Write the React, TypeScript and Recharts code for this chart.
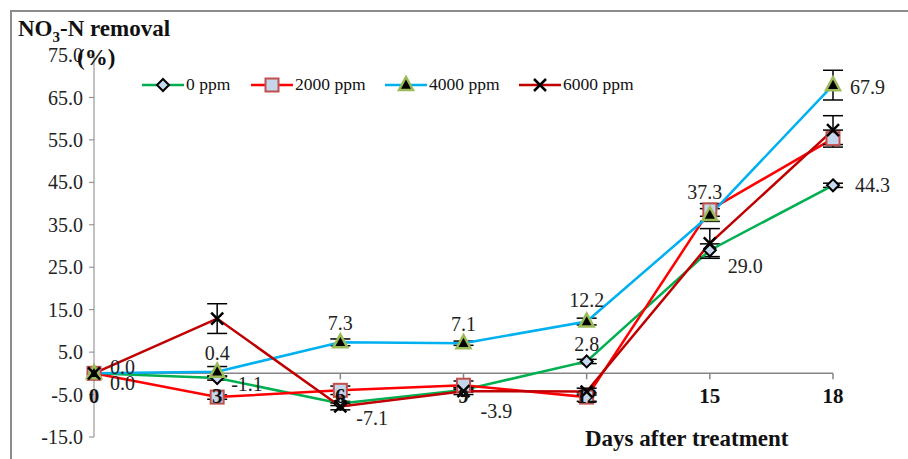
import { LineChart, Line, XAxis, YAxis, ErrorBar, ReferenceLine, ReferenceDot } from 'recharts';

const days = [0, 3, 6, 9, 12, 15, 18];
const ppm0 = [0, -1.1, -7.1, -3.9, 2.8, 29.0, 44.3];
const ppm2000 = [0, -5.6, -4.0, -2.8, -5.6, 38.5, 55.3];
const ppm4000 = [0, 0.4, 7.3, 7.1, 12.2, 37.3, 67.9];
const ppm6000 = [0, 12.9, -7.8, -4.2, -4.3, 30.6, 57.3];
const err0 = [0, 0.5, 0.5, 0.5, 0.5, 1.5, 0.5];
const err2000 = [0, 0.5, 1, 1, 1, 1.5, 2];
const err4000 = [0, 1.2, 0.8, 0.5, 0.8, 1.5, 3.5];
const err6000 = [0, 3.5, 0.8, 0.8, 0.8, 3.5, 3.4];
const yTicks = [-15, -5, 5, 15, 25, 35, 45, 55, 65, 75];

// label placement: [dx, dy, anchor]
const labelPos0: [number, number, string][] = [
  [16, 10, 'start'], [14, 6, 'start'], [16, 15, 'start'], [17, 21, 'start'],
  [0, -17, 'middle'], [18, 16, 'start'], [22, 0, 'start'],
];
const labelPos4000: [number, number, string][] = [
  [16, -6, 'start'], [0, -19, 'middle'], [0, -19, 'middle'], [0, -19, 'middle'],
  [0, -22, 'middle'], [-5, -23, 'middle'], [17, 2, 'start'],
];

const data = days.map((d, i) => ({
  day: d,
  p0: ppm0[i], e0: err0[i],
  p2000: ppm2000[i], e2000: err2000[i],
  p4000: ppm4000[i], e4000: err4000[i],
  p6000: ppm6000[i], e6000: err6000[i],
}));

const FONT = '"Liberation Serif", "Times New Roman", serif';
const AXIS = '#868686';

const series = [
  { key: 'p0', err: 'e0', name: '0 ppm', color: '#00b050', marker: 'diamond', labels: labelPos0, w: 109 },
  { key: 'p2000', err: 'e2000', name: '2000 ppm', color: '#ff0000', marker: 'square', labels: null, w: 134 },
  { key: 'p4000', err: 'e4000', name: '4000 ppm', color: '#00b0f0', marker: 'triangle', labels: labelPos4000, w: 134 },
  { key: 'p6000', err: 'e6000', name: '6000 ppm', color: '#c00000', marker: 'cross', labels: null, w: 134 },
];

function Marker({ kind, cx, cy }: { kind: string; cx: number; cy: number }) {
  if (kind === 'diamond') {
    return <polygon points={`${cx},${cy - 6} ${cx + 6},${cy} ${cx},${cy + 6} ${cx - 6},${cy}`} fill="#c6d9f1" stroke="#000" strokeWidth={2} />;
  }
  if (kind === 'square') {
    return <rect x={cx - 6.5} y={cy - 6.5} width={13} height={13} fill="#c5d5ea" stroke="#c0504d" strokeWidth={2} />;
  }
  if (kind === 'triangle') {
    return <polygon points={`${cx},${cy - 8} ${cx + 7},${cy + 5} ${cx - 7},${cy + 5}`} fill="#000" stroke="#9bbb59" strokeWidth={2.5} />;
  }
  return (
    <g stroke="#000" strokeWidth={2.5}>
      <line x1={cx - 6} y1={cy - 6} x2={cx + 6} y2={cy + 6} />
      <line x1={cx - 6} y1={cy + 6} x2={cx + 6} y2={cy - 6} />
    </g>
  );
}

const makeLabel = (pos: [number, number, string][]) => (p: any) => {
  const idx = p.index ?? 0;
  const [dx, dy, anchor] = pos[idx];
  return (
    <text key={`l${idx}`} x={p.x + dx} y={p.y + dy} textAnchor={anchor as any} dominantBaseline="central"
      fontSize={20} fill="#222" fontFamily={FONT}>
      {Number(p.value).toFixed(1)}
    </text>
  );
};

function LegendBox() {
  return (
    <div style={{ position: 'absolute', left: 142, top: 74, display: 'flex', fontFamily: FONT, fontSize: 17.5, color: '#111', alignItems: 'center', whiteSpace: 'nowrap' }}>
      {series.map((s) => (
        <div key={s.key} style={{ display: 'flex', alignItems: 'center', width: s.w }}>
          <svg width={42} height={20}>
            <line x1={0} y1={10} x2={42} y2={10} stroke={s.color} strokeWidth={2.5} />
            <Marker kind={s.marker} cx={21} cy={10} />
          </svg>
          <span style={{ marginLeft: 2 }}>{s.name}</span>
        </div>
      ))}
    </div>
  );
}

export default function App() {
  return (
    <div style={{ position: 'absolute', left: 0, top: 0, width: 908, height: 459, background: '#fff', fontFamily: FONT, overflow: 'hidden' }}>
      <div style={{ position: 'absolute', left: 10, top: 10, right: 0, bottom: 0, borderTop: '2.5px solid #8c8c8c', borderLeft: '2.5px solid #8c8c8c' }} />
      <LineChart width={908} height={459} data={data} margin={{ top: 55, right: 75, bottom: 22, left: 34 }}>
        <XAxis type="number" dataKey="day" domain={[0, 18]} hide />
        <YAxis
          domain={[-15, 75]}
          ticks={yTicks}
          interval={0}
          width={60}
          stroke={AXIS}
          tickSize={5}
          tickMargin={6}
          tickFormatter={(v: number) => v.toFixed(1)}
          tick={{ fill: '#222', fontSize: 20, fontFamily: FONT }}
        />
        <ReferenceLine y={0} stroke={AXIS} strokeWidth={1.5} />
        {days.map((d) => (
          <ReferenceLine key={`t${d}`} segment={[{ x: d, y: 0 }, { x: d, y: -1.4 }]} stroke={AXIS} strokeWidth={1.5} />
        ))}
        {days.map((d) => (
          <ReferenceDot key={`d${d}`} x={d} y={0} r={1} fill="none" stroke="none"
            label={{ value: String(d), position: 'bottom', offset: 14, fill: '#111', fontSize: 21, fontWeight: 'bold', fontFamily: FONT }} />
        ))}
        {series.map((s) => (
          <Line
            key={s.key}
            type="linear"
            dataKey={s.key}
            name={s.name}
            stroke={s.color}
            strokeWidth={2.5}
            isAnimationActive={false}
            dot={(p: any) => <Marker key={`${s.key}${p.index}`} kind={s.marker} cx={p.cx} cy={p.cy} />}
            activeDot={false}
            label={s.labels ? makeLabel(s.labels) : false}
          >
            <ErrorBar dataKey={s.err} width={10} stroke="#000" strokeWidth={1.5} direction="y" />
          </Line>
        ))}
      </LineChart>
      <LegendBox />
      <div style={{ position: 'absolute', left: 18, top: 15, fontSize: 23, fontWeight: 'bold', color: '#111', whiteSpace: 'nowrap', lineHeight: '28px' }}>
        NO<sub style={{ fontSize: 15 }}>3</sub>-N removal
      </div>
      <div style={{ position: 'absolute', left: 77, top: 44, fontSize: 23, fontWeight: 'bold', color: '#111', lineHeight: '28px' }}>(%)</div>
      <div style={{ position: 'absolute', left: 585, top: 426, fontSize: 23, fontWeight: 'bold', color: '#111', whiteSpace: 'nowrap', lineHeight: '26px' }}>
        Days after treatment
      </div>
    </div>
  );
}
